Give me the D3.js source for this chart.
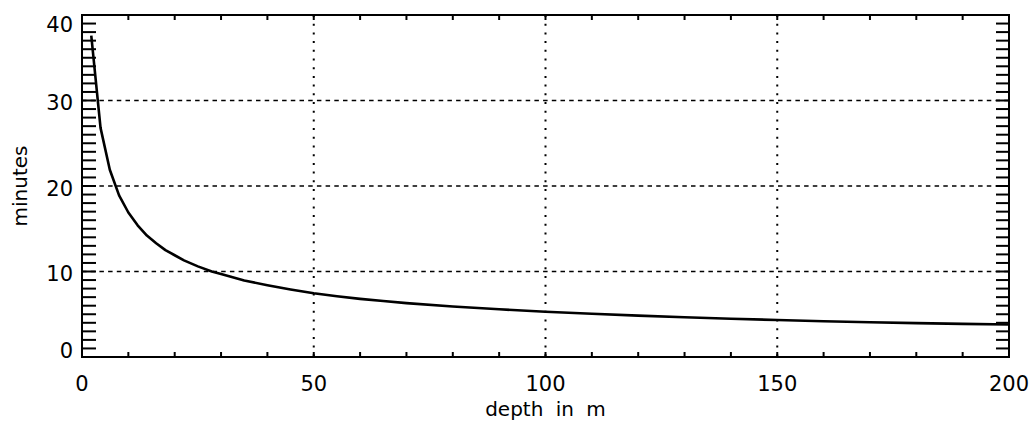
<!DOCTYPE html>
<html>
<head>
<meta charset="utf-8">
<script src="https://cdnjs.cloudflare.com/ajax/libs/d3/7.8.5/d3.min.js"></script>
<style>
  body { margin: 0; background: #fff; }
  text { font-family: "DejaVu Sans", sans-serif; fill: #000; }
</style>
</head>
<body>
<svg id="chart" width="1036" height="423"></svg>
<script>
// curve values
var depth   = [2, 4, 6, 8, 10, 12, 14, 16, 18, 20, 22, 25, 28, 30, 35, 40, 45, 50, 55,
               60, 65, 70, 80, 90, 100, 110, 120, 130, 140, 150, 160, 170, 180, 190, 200];
var minutes = [37.6, 26.8, 21.9, 18.9, 16.9, 15.4, 14.2, 13.3, 12.5, 11.9, 11.3, 10.6, 10.0, 9.7, 8.95, 8.4, 7.9, 7.45, 7.1,
               6.8, 6.55, 6.3, 5.9, 5.58, 5.3, 5.05, 4.84, 4.65, 4.48, 4.32, 4.19, 4.07, 3.96, 3.87, 3.8];

var xTicks = [0, 50, 100, 150, 200];
var yTicks = [0, 10, 20, 30, 40];
var xMinor = d3.range(0, 201, 10);
var yMinor = d3.range(0, 41, 1);

var svg = d3.select('#chart');
var box = {l: 82, r: 1009, t: 15, b: 357};

var x = d3.scaleLinear().domain([0, 200]).range([box.l, box.r]);
var y = d3.scaleLinear().domain([0, 40]).range([box.b, box.t]);

// grid lines
svg.append('g').selectAll('line')
    .data(yTicks).enter().append('line')
    .attr('x1', box.l).attr('x2', box.r)
    .attr('y1', d => y(d)).attr('y2', d => y(d))
    .attr('stroke', '#000').attr('stroke-width', 1.5)
    .attr('stroke-dasharray', '4.5,4.2');

svg.append('g').selectAll('line')
    .data(xTicks).enter().append('line')
    .attr('x1', d => x(d)).attr('x2', d => x(d))
    .attr('y1', box.t).attr('y2', box.b)
    .attr('stroke', '#000').attr('stroke-width', 2)
    .attr('stroke-dasharray', '2,6.7');

// minor ticks, left/right long, top/bottom short
var ticksG = svg.append('g').attr('stroke', '#000').attr('stroke-width', 2);
ticksG.selectAll('.yl').data(yMinor).enter().append('line')
    .attr('x1', box.l).attr('x2', box.l + 14)
    .attr('y1', d => y(d)).attr('y2', d => y(d));
ticksG.selectAll('.yr').data(yMinor).enter().append('line')
    .attr('x1', box.r).attr('x2', box.r - 13)
    .attr('y1', d => y(d)).attr('y2', d => y(d));
ticksG.selectAll('.xb').data(xMinor).enter().append('line')
    .attr('x1', d => x(d)).attr('x2', d => x(d))
    .attr('y1', box.b).attr('y2', box.b - 5);
ticksG.selectAll('.xt').data(xMinor).enter().append('line')
    .attr('x1', d => x(d)).attr('x2', d => x(d))
    .attr('y1', box.t).attr('y2', box.t + 5);

// frame
svg.append('rect')
    .attr('x', box.l).attr('y', box.t)
    .attr('width', box.r - box.l).attr('height', box.b - box.t)
    .attr('fill', 'none').attr('stroke', '#000').attr('stroke-width', 2);

// curve
var line = d3.line().x(d => x(d[0])).y(d => y(d[1]));
svg.append('path')
    .datum(d3.zip(depth, minutes))
    .attr('d', line)
    .attr('fill', 'none').attr('stroke', '#000').attr('stroke-width', 2.6)
    .attr('stroke-linejoin', 'round');

// tick labels
svg.append('g').selectAll('text')
    .data(xTicks).enter().append('text')
    .attr('x', d => x(d)).attr('y', 391)
    .attr('text-anchor', 'middle')
    .style('font-size', '21px')
    .text(d => d);

svg.append('g').selectAll('text')
    .data(yTicks).enter().append('text')
    .attr('x', 73)
    .attr('y', function(d) {
        var nudge = d === 40 ? 9.5 : (d === 0 ? -7 : 2);
        return y(d) + nudge + 7.5;
    })
    .attr('text-anchor', 'end')
    .style('font-size', '21px')
    .text(d => d);

// axis titles
svg.append('text')
    .attr('x', (box.l + box.r) / 2).attr('y', 416)
    .attr('text-anchor', 'middle')
    .style('font-size', '20px')
    .style('word-spacing', '6px')
    .text('depth in m');

svg.append('text')
    .attr('transform', 'translate(27,' + (box.t + box.b) / 2 + ')rotate(-90)')
    .attr('text-anchor', 'middle')
    .style('font-size', '20px')
    .text('minutes');
</script>
</body>
</html>
